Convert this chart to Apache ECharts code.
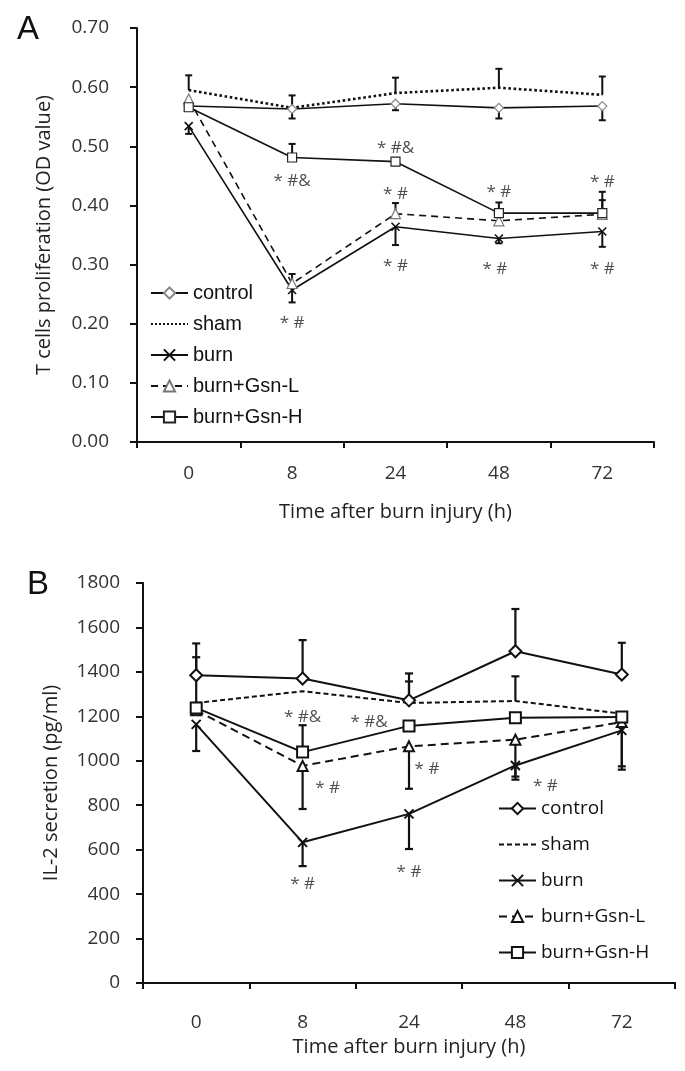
<!DOCTYPE html>
<html><head><meta charset="utf-8">
<script src="https://cdn.jsdelivr.net/npm/echarts@6/dist/echarts.min.js"></script>
<style>html,body{margin:0;padding:0;background:#fff;}#a{position:absolute;left:0;top:0;width:685px;height:535px;}#b{position:absolute;left:0;top:535px;width:685px;height:536px;}</style>
</head><body><div id="a"></div><div id="b"></div>
<script>
// ---- data ----
const categories = ['0', '8', '24', '48', '72'];
const seriesNames = ['control', 'sham', 'burn', 'burn+Gsn-L', 'burn+Gsn-H'];
const yTicksA = [0, 0.1, 0.2, 0.3, 0.4, 0.5, 0.6, 0.7];
const yTicksB = [0, 200, 400, 600, 800, 1000, 1200, 1400, 1600, 1800];

// Panel A: T cells proliferation (OD value)
const aControl = [0.568, 0.563, 0.572, 0.565, 0.568];
const aSham    = [0.595, 0.565, 0.590, 0.599, 0.587];
const aBurn    = [0.534, 0.257, 0.364, 0.344, 0.356];
const aGsnL    = [0.580, 0.268, 0.386, 0.374, 0.385];
const aGsnH    = [0.566, 0.481, 0.474, 0.387, 0.387];
// error bar end values (null = not visible)
const aControlErr = [null, 0.547, 0.561, 0.547, 0.544];
const aShamErr    = [0.620, 0.586, 0.616, 0.631, 0.618];
const aBurnErr    = [0.521, 0.236, 0.333, 0.336, 0.330];
const aGsnLErr    = [null, 0.284, 0.404, null, 0.409];
const aGsnHErr    = [null, 0.504, null, 0.405, 0.423];
const aNoteText = ['* #&', '* #&', '* #', '* #', '* #', '* #', '* #', '* #', '* #'];
const aNoteCat  = ['8', '24', '24', '48', '72', '24', '48', '72', '8'];
const aNoteY    = [0.441, 0.497, 0.419, 0.423, 0.440, 0.298, 0.293, 0.293, 0.201];

// Panel B: IL-2 secretion (pg/ml)
const bControl = [1385, 1370, 1272, 1493, 1388];
const bSham    = [1260, 1313, 1260, 1269, 1212];
const bBurn    = [1164, 633, 761, 979, 1137];
const bGsnL    = [1227, 977, 1065, 1095, 1174];
const bGsnH    = [1238, 1039, 1157, 1194, 1197];
const bControlErr = [1528, 1543, 1393, 1683, 1531];
const bShamErr    = [1466, null, 1357, 1380, 975];
const bBurnErr    = [1044, 526, 603, 915, 960];
const bGsnLErr    = [null, 783, 874, 929, null];
const bGsnHErr    = [null, 1160, null, null, null];
const bNoteText = ['* #&', '* #&', '* #', '* #', '* #', '* #', '* #'];
const bNoteCat  = ['8', '24', '24', '8', '48', '8', '24'];
const bNoteY    = [1195, 1173, 961, 875, 884, 447, 501];

// ---- layout (not data) ----
const aNoteDx = [0, 0, 0, 0, 0, 0, -4, 0, 0];
const bNoteDx = [0, -40, 18, 25, 30, 0, 0];

const INK = '#111';
const X_PATH = 'path://M0,0L10,10M10,0L0,10';

function errSeries(vals, ends, capW, lw) {
  const data = [];
  vals.forEach((v, i) => { if (ends[i] != null) data.push([i, v, ends[i]]); });
  return {
    type: 'custom', silent: true, z: 1,
    renderItem: function (params, api) {
      const p0 = api.coord([api.value(0), api.value(1)]);
      const p1 = api.coord([api.value(0), api.value(2)]);
      const st = { stroke: INK, lineWidth: lw };
      return { type: 'group', children: [
        { type: 'line', shape: { x1: p0[0], y1: p0[1], x2: p1[0], y2: p1[1] }, style: st },
        { type: 'line', shape: { x1: p1[0] - capW / 2, y1: p1[1], x2: p1[0] + capW / 2, y2: p1[1] }, style: st }
      ]};
    },
    data: data
  };
}

function noteSeries(texts, cats, ys, dxs, font) {
  return {
    type: 'scatter', symbolSize: 1, silent: true, z: 5,
    itemStyle: { color: 'rgba(0,0,0,0)' },
    data: texts.map((t, i) => ({
      value: [cats[i], ys[i]],
      label: { show: true, formatter: t, position: 'inside', offset: [dxs[i], 0],
               color: '#222', fontFamily: font, fontSize: 17 }
    }))
  };
}

function axes(yMax, yInt, fmt, labelMargin, nameGap, yName, yNameGap, yLabelMargin) {
  return {
    xAxis: {
      type: 'category', data: categories, boundaryGap: true,
      name: 'Time after burn injury (h)', nameLocation: 'middle', nameGap: nameGap,
      nameTextStyle: { fontFamily: 'Open Sans', fontSize: 20, color: '#222' },
      axisLine: { lineStyle: { color: INK, width: 2 } },
      axisTick: { show: true, length: 6, lineStyle: { color: INK, width: 2 } },
      axisLabel: { margin: labelMargin, fontFamily: 'Open Sans', fontSize: 19, color: '#333' },
      splitLine: { show: false }
    },
    yAxis: {
      type: 'value', min: 0, max: yMax, interval: yInt,
      name: yName, nameLocation: 'middle', nameGap: yNameGap, nameRotate: 90,
      nameTextStyle: { fontFamily: 'Open Sans', fontSize: 20, color: '#222' },
      axisLine: { show: true, lineStyle: { color: INK, width: 2 } },
      axisTick: { show: true, length: 7, lineStyle: { color: INK, width: 2 } },
      axisLabel: { margin: yLabelMargin, formatter: fmt, fontFamily: 'Open Sans', fontSize: 19, color: '#333' },
      splitLine: { show: false }
    }
  };
}

function legendData() {
  return seriesNames.map(n => n === 'sham' ? { name: n, itemStyle: { opacity: 0 } } : n);
}

// ---- Panel A ----
const chartA = echarts.init(document.getElementById('a'), null, { renderer: 'canvas' });
const axA = axes(yTicksA[yTicksA.length - 1], yTicksA[1] - yTicksA[0], v => v.toFixed(2), 22, 60,
                 'T cells proliferation (OD value)', 83, 28);
const lineA = (name, vals, symbol, size, type, color) => ({
  name: name, type: 'line', data: vals, z: 3,
  symbol: symbol || 'none', symbolSize: size, showSymbol: !!symbol,
  lineStyle: { color: INK, width: type === 'dotted' ? 2.6 : 1.6, type: type || 'solid' },
  itemStyle: { color: symbol === X_PATH ? INK : '#fff', borderColor: color || INK, borderWidth: symbol === X_PATH ? 1.6 : 1.2 }
});
chartA.setOption({
  animation: false,
  backgroundColor: '#fff',
  title: { text: 'A', left: 12, top: 8, textStyle: { fontFamily: 'Liberation Sans', fontSize: 33, fontWeight: 'normal', color: '#111' } },
  grid: { left: 137, right: 31, top: 28, bottom: 93 },
  xAxis: axA.xAxis, yAxis: axA.yAxis,
  legend: {
    orient: 'vertical', left: 150, top: 283, padding: 0, itemWidth: 37, itemHeight: 14, itemGap: 11,
    data: legendData(),
    textStyle: { fontFamily: 'Liberation Sans', fontSize: 20, color: '#111' }
  },
  series: [
    errSeries(aControl, aControlErr, 7, 2),
    errSeries(aSham, aShamErr, 7, 2),
    errSeries(aBurn, aBurnErr, 7, 2),
    errSeries(aGsnL, aGsnLErr, 7, 2),
    errSeries(aGsnH, aGsnHErr, 7, 2),
    lineA('control', aControl, 'diamond', 9, 'solid', '#888'),
    lineA('sham', aSham, null, 0, 'dotted'),
    lineA('burn', aBurn, X_PATH, 8, 'solid'),
    lineA('burn+Gsn-L', aGsnL, 'triangle', 10, [7, 5], '#777'),
    lineA('burn+Gsn-H', aGsnH, 'rect', 9, 'solid', '#222'),
    noteSeries(aNoteText, aNoteCat, aNoteY, aNoteDx, 'Open Sans')
  ]
});

// ---- Panel B ----
const chartB = echarts.init(document.getElementById('b'), null, { renderer: 'canvas' });
const axB = axes(yTicksB[yTicksB.length - 1], yTicksB[1] - yTicksB[0], v => String(v), 30, 53,
                 'IL-2 secretion (pg/ml)', 82, 23);
const lineB = (name, vals, symbol, size, type) => ({
  name: name, type: 'line', data: vals, z: 3,
  symbol: symbol || 'none', symbolSize: size, showSymbol: !!symbol,
  lineStyle: { color: INK, width: 2, type: type || 'solid' },
  itemStyle: { color: symbol === X_PATH ? INK : '#fff', borderColor: INK, borderWidth: 2 }
});
chartB.setOption({
  animation: false,
  backgroundColor: '#fff',
  title: { text: 'B', left: 22, top: 28, textStyle: { fontFamily: 'Liberation Sans', fontSize: 33, fontWeight: 'normal', color: '#111' } },
  grid: { left: 143, right: 10, top: 48, bottom: 88 },
  xAxis: axB.xAxis, yAxis: axB.yAxis,
  legend: {
    orient: 'vertical', left: 498, top: 264, padding: 0, itemWidth: 37, itemHeight: 14, itemGap: 17,
    data: legendData(),
    textStyle: { fontFamily: 'Open Sans', fontSize: 19, color: '#111' }
  },
  series: [
    errSeries(bControl, bControlErr, 8, 2.2),
    errSeries(bSham, bShamErr, 8, 2.2),
    errSeries(bBurn, bBurnErr, 8, 2.2),
    errSeries(bGsnL, bGsnLErr, 8, 2.2),
    errSeries(bGsnH, bGsnHErr, 8, 2.2),
    lineB('control', bControl, 'diamond', 12, 'solid'),
    lineB('sham', bSham, null, 0, [5, 3]),
    lineB('burn', bBurn, X_PATH, 9, 'solid'),
    lineB('burn+Gsn-L', bGsnL, 'triangle', 10, [8, 5]),
    lineB('burn+Gsn-H', bGsnH, 'rect', 11, 'solid'),
    noteSeries(bNoteText, bNoteCat, bNoteY, bNoteDx, 'Open Sans')
  ]
});
</script></body></html>
